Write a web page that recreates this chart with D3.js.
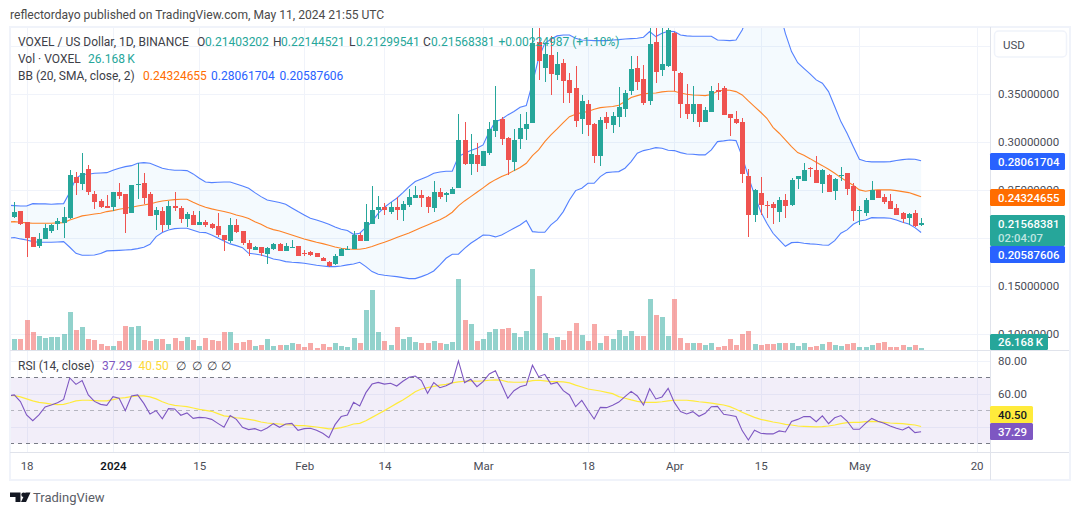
<!DOCTYPE html>
<html>
<head>
<meta charset="utf-8">
<script src="https://cdn.jsdelivr.net/npm/d3@7"></script>
<style>
html,body{margin:0;background:#fff;overflow:hidden}
text{font-family:Roboto,"Noto Sans",sans-serif}
</style>
</head>
<body>
<svg id="chart" width="1080" height="515"></svg>
<script>
// VOXEL / USD daily candles, first candle on 16 Dec 2023
const opens=[.2218,.2284,.2166,.2009,.1919,.1992,.2075,.2152,.2159,.2214,
.2638,.2569,.2722,.2461,.2388,.2336,.2325,.2482,.2461,.2263,
.2562,.2579,.2461,.2242,.2284,.2138,.2336,.2315,.2204,.2242,
.2138,.2169,.2148,.2127,.2034,.1971,.2138,.2072,.1950,.1880,
.1908,.1835,.1884,.1940,.1870,.1901,.1915,.1849,.1853,.1846,
.1794,.1748,.1727,.1818,.1887,.1887,
.2034,.1974,.2148,.2294,.2325,.2273,.2325,.2294,.2346,.2419,
.2451,.2430,.2315,.2482,.2451,.2461,.2524,.3024,.2774,.2868,
.2753,.2889,.3118,.3243,.3045,.2795,.3034,.3139,.3201,.4049,
.3775,.3910,.3702,.3827,.3650,.3566,.3243,.3399,.3191,.2857,
.3264,.3180,.3264,.3347,.3535,.3775,.3660,.3431,.4046,.3754,
.3796,.4140,.3723,.3399,.3295,.3399,.3212,.3316,.3545,.3566,
.3295,.3243,.3212,.2649,.2242,.2471,.2346,.2357,.2273,.2398,
.2346,.2617,.2597,.2729,.2711,.2565,.2659,.2492,.2649,.2680,
.2544,.2287,.2263,.2398,.2503,.2430,.2388,.2315,.2263,.2211,.2263,.21403202];
const highs=[.2378,.2284,.2166,.2009,.2051,.2148,.2148,.2207,.2322,.2711,
.2687,.2889,.2763,.2496,.2409,.2451,.2485,.2579,.2461,.2555,
.2781,.2683,.2482,.2329,.2329,.2388,.2482,.2336,.2277,.2284,
.2284,.2190,.2162,.2263,.2034,.2211,.2200,.2072,.1981,.1919,
.1908,.1905,.1950,.1950,.1947,.1978,.1915,.1877,.1867,.1849,
.1804,.1759,.1832,.1894,.1919,.2075,
.2051,.2357,.2544,.2440,.2367,.2378,.2430,.2388,.2513,.2544,
.2503,.2440,.2597,.2524,.2482,.2537,.3295,.3212,.3087,.2989,
.2909,.3212,.3587,.3267,.3055,.3139,.3295,.3316,.4300,.4300,
.4032,.4109,.3942,.3865,.3719,.3796,.3493,.3441,.3198,.3267,
.3316,.3316,.3577,.3545,.3900,.3900,.3806,.4300,.4300,.4300,
.4300,.4154,.3733,.3608,.3587,.3399,.3368,.3587,.3618,.3587,
.3295,.3327,.3253,.2722,.2513,.2638,.2388,.2378,.2430,.2461,
.2628,.2649,.2784,.2739,.2857,.2722,.2670,.2628,.2742,.2680,
.2576,.2336,.2419,.2597,.2503,.2461,.2461,.2357,.2273,.2263,.2294,.22144521];
const lows=[.2207,.2138,.1807,.1912,.1898,.1988,.2058,.2086,.2006,.2200,
.2451,.2503,.2451,.2305,.2312,.2315,.2287,.2409,.2058,.2259,
.2412,.2357,.2232,.2086,.2068,.2096,.2287,.2155,.2120,.2135,
.2135,.2120,.2099,.2009,.1867,.1947,.2051,.1929,.1814,.1877,
.1814,.1731,.1877,.1867,.1867,.1898,.1814,.1814,.1814,.1801,
.1759,.1703,.1724,.1814,.1884,.1884,
.1974,.1974,.2148,.2200,.2242,.2252,.2190,.2179,.2325,.2419,
.2325,.2263,.2273,.2409,.2378,.2458,.2524,.2760,.2659,.2690,
.2753,.2868,.3055,.2972,.2659,.2701,.2930,.3024,.3201,.3650,
.3629,.3493,.3650,.3410,.3406,.3163,.3087,.3066,.2784,.2753,
.3139,.3097,.3163,.3264,.3493,.3545,.3389,.3389,.3618,.3691,
.3789,.3535,.3253,.3243,.3212,.3160,.3212,.3316,.3441,.3285,
.3066,.3191,.2576,.2013,.2169,.2242,.2211,.2148,.2169,.2211,
.2336,.2513,.2597,.2638,.2576,.2471,.2478,.2398,.2597,.2451,
.2179,.2138,.2232,.2398,.2419,.2357,.2301,.2242,.2159,.2138,.2117,.21299541];
const closes=[.2273,.2152,.2006,.1912,.1992,.2106,.2138,.2179,.2221,.2659,
.2579,.2680,.2485,.2381,.2325,.2318,.2485,.2440,.2256,.2555,
.2565,.2419,.2235,.2298,.2138,.2336,.2318,.2204,.2252,.2138,
.2169,.2138,.2106,.2030,.1978,.2138,.2065,.1947,.1887,.1908,
.1842,.1898,.1940,.1870,.1919,.1912,.1818,.1839,.1828,.1807,
.1766,.1707,.1814,.1887,.1891,.2034,
.1974,.2169,.2294,.2325,.2294,.2322,.2294,.2357,.2430,.2451,
.2419,.2322,.2482,.2430,.2471,.2513,.3024,.2774,.2878,.2774,
.2909,.3139,.3233,.3034,.2816,.3024,.3149,.3191,.4032,.3844,
.3921,.3712,.3817,.3639,.3514,.3222,.3431,.3180,.2857,.3233,
.3201,.3274,.3368,.3514,.3764,.3629,.3410,.4025,.3733,.3817,
.4171,.3747,.3399,.3295,.3399,.3212,.3337,.3535,.3525,.3285,
.3253,.3198,.2670,.2242,.2503,.2346,.2339,.2315,.2398,.2336,
.2607,.2649,.2711,.2718,.2576,.2711,.2482,.2617,.2659,.2513,
.2284,.2294,.2398,.2503,.2419,.2378,.2305,.2242,.2200,.2252,.2127,.21568381];

// The series below begin one day earlier, on 15 Dec 2023
const volumes=[510,144,144,392,235,183,157,170,170,209,497,262,301,144,131,78,52,52,118,314,301,314,131,118,144,144,78,157,118,170,131,52,157,131,118,235,235,92,105,131,52,65,144,52,65,65,92,78,39,92,26,78,39,92,52,39,157,92,
523,785,235,118,65,301,144,170,105,92,92,118,92,78,105,929,392,340,118,144,235,275,275,288,222,170,249,1059,706,222,157,170,131,249,353,196,118,340,92,183,144,262,183,249,183,183,667,458,432,183,667,157,92,92,92,65,92,39,
52,144,65,209,249,78,65,78,78,92,92,92,52,92,39,52,78,105,65,52,78,92,39,39,65,92,105,39,39,65,39,65,26.168];
const bbUpper=[.2343,.2339,.2336,.2336,.2360,.2357,.2357,.2353,.2357,.2360,.2478,.2624,.2666,.2666,.2676,.2680,.2683,.2708,.2729,.2746,.2756,.2781,.2788,.2781,.2756,.2729,.2715,.2708,.2708,.2704,.2670,.2624,.2586,.2579,.2583,.2586,.2586,.2565,.2544,.2520,.2475,.2433,.2398,.2384,.2371,.2353,.2315,.2277,.2242,.2207,.2190,.2169,.2145,.2117,.2093,.2079,.2040,
.2051,.2113,.2172,.2259,.2322,.2371,.2416,.2475,.2537,.2590,.2617,.2642,.2676,.2690,.2697,.2697,.2850,.2885,.2913,.2937,.2972,.3111,.3215,.3240,.3285,.3320,.3365,.3382,.3615,.3876,.4032,.4074,.4109,.4119,.4119,.4084,.4067,.4063,.4060,.4060,.4060,.4067,.4070,.4077,.4081,.4084,.4095,.4154,.4102,.4136,.4157,.4154,.4119,.4109,.4105,.4105,.4105,.4105,.4067,
.4063,.4060,.4067,.4171,.4328,.4449,.4554,.4588,.4554,.4380,.4136,.3945,.3830,.3771,.3712,.3650,.3615,.3528,.3372,.3215,.3094,.2955,.2822,.2802,.2795,.2795,.2795,.2798,.2809,.2819,.2826,.2822,.28061704];
const bbBasis=[.2169,.2172,.2166,.2159,.2155,.2155,.2155,.2155,.2159,.2162,.2190,.2211,.2232,.2242,.2252,.2259,.2277,.2287,.2301,.2312,.2322,.2336,.2346,.2357,.2374,.2388,.2395,.2402,.2405,.2405,.2374,.2346,.2322,.2305,.2291,.2277,.2263,.2242,.2225,.2204,.2172,.2145,.2110,.2089,.2075,.2054,.2033,.2013,.1992,.1974,.1957,.1943,.1926,.1908,.1894,.1887,.1884,
.1884,.1894,.1912,.1936,.1957,.1981,.2006,.2030,.2054,.2082,.2110,.2138,.2166,.2193,.2225,.2270,.2336,.2388,.2433,.2478,.2524,.2572,.2610,.2642,.2670,.2704,.2736,.2781,.2861,.2920,.3007,.3076,.3139,.3205,.3267,.3292,.3309,.3320,.3344,.3361,.3368,.3372,.3386,.3424,.3466,.3486,.3504,.3511,.3514,.3525,.3532,.3532,.3514,.3500,.3493,.3490,.3486,.3497,.3532,
.3545,.3542,.3528,.3493,.3431,.3372,.3313,.3250,.3156,.3094,.3024,.2955,.2892,.2864,.2829,.2791,.2756,.2718,.2676,.2631,.2590,.2551,.2503,.2489,.2499,.2503,.2503,.2503,.2496,.2485,.2475,.2454,.24324655];
const bbLower=[.1999,.2006,.1992,.1981,.1964,.1957,.1957,.1957,.1960,.1964,.1905,.1842,.1821,.1821,.1825,.1839,.1867,.1870,.1873,.1877,.1880,.1891,.1905,.1936,.2016,.2058,.2086,.2099,.2103,.2103,.2082,.2061,.2058,.2033,.2002,.1971,.1940,.1922,.1901,.1842,.1835,.1825,.1807,.1783,.1773,.1755,.1748,.1745,.1738,.1728,.1717,.1710,.1703,.1703,.1710,.1721,.1731,
.1748,.1703,.1651,.1623,.1613,.1606,.1599,.1588,.1578,.1578,.1599,.1623,.1658,.1721,.1790,.1832,.1832,.1894,.1947,.1988,.2033,.2030,.2013,.2033,.2068,.2103,.2138,.2183,.2068,.2061,.2061,.2138,.2190,.2277,.2398,.2496,.2520,.2572,.2572,.2642,.2683,.2690,.2694,.2729,.2798,.2885,.2913,.2927,.2944,.2937,.2916,.2913,.2892,.2878,.2875,.2868,.2868,.2920,.3007,
.3014,.3024,.3017,.2850,.2642,.2451,.2277,.2155,.2051,.1981,.1915,.1953,.1957,.1947,.1940,.1936,.1929,.1926,.1974,.2051,.2086,.2145,.2179,.2190,.2214,.2211,.2211,.2207,.2190,.2166,.2148,.2110,.20587606];
const rsi=[59.0,59.6,55.6,47.5,44.0,47.5,52.3,53.5,54.9,56.9,69.9,66.0,68.3,59.6,55.7,53.9,53.3,58.6,57.6,50.1,59.0,59.6,54.5,48.1,50.1,45.2,51.3,51.1,47.3,48.7,45.4,46.0,45.8,44.8,42.4,40.0,47.1,44.8,40.0,38.6,39.2,37.8,39.6,42.2,40.0,42.0,42.4,38.2,39.2,39.4,38.2,36.4,33.7,41.6,46.5,47.5,55.1,
52.9,61.0,66.2,67.2,66.2,66.7,65.0,67.9,70.3,71.1,68.3,60.6,67.1,64.0,65.2,67.1,80.2,67.1,69.1,64.6,67.7,72.3,74.3,66.0,57.6,62.2,64.6,65.6,77.6,70.7,72.1,66.2,67.2,62.2,59.6,52.5,56.3,50.5,45.0,52.1,51.9,53.3,55.3,58.6,61.8,59.0,53.5,63.4,57.2,58.4,63.6,55.1,49.5,48.1,49.5,46.7,48.5,52.5,52.7,
47.9,47.3,46.5,38.0,32.3,38.2,36.4,36.0,36.0,37.8,37.2,43.6,44.8,46.5,46.5,43.4,46.9,42.2,45.8,47.1,43.8,38.8,38.8,42.4,45.4,43.6,42.4,40.8,39.4,38.4,40.2,36.8,37.29];
const rsiMa=[59.2,59.2,58.4,57.2,56.0,55.1,54.7,54.1,53.7,53.9,54.9,56.0,56.4,56.4,56.2,56.0,56.0,56.8,57.6,58.0,58.6,59.0,59.0,58.4,57.2,55.5,54.1,53.3,52.9,52.5,51.7,50.9,50.3,49.7,48.3,46.9,46.5,45.8,45.4,44.8,44.2,43.2,42.6,42.2,42.0,41.6,41.4,41.0,41.0,40.6,40.2,39.6,39.0,39.2,39.8,40.8,42.0,
42.4,44.0,46.0,48.1,50.1,52.3,54.5,56.6,59.0,61.6,63.2,64.0,64.8,65.6,66.0,66.9,67.5,67.9,68.1,67.9,68.1,68.5,68.7,68.5,67.5,67.3,67.3,67.5,68.3,68.5,68.1,67.7,67.7,67.5,66.9,65.6,64.4,63.2,62.6,62.0,61.2,60.4,58.6,57.6,56.6,55.7,55.1,55.1,55.1,55.5,56.0,56.4,56.4,56.4,56.0,55.5,55.1,54.7,54.1,
53.5,52.5,50.9,49.1,47.5,46.0,44.8,44.0,43.2,42.6,41.8,41.4,40.8,40.6,40.4,40.2,40.4,40.8,41.4,42.2,42.8,43.0,43.0,43.4,43.6,43.4,43.0,42.6,42.4,42.2,41.8,41.4,40.50];

// Axis ticks: gridlines run at every tick, labels only where the scale has room
const timeTicks=[["2023-12-18","18"],["2024-01-01","2024"],["2024-01-15","15"],["2024-02-01","Feb"],["2024-02-14","14"],["2024-03-01","Mar"],["2024-03-18","18"],["2024-04-01","Apr"],["2024-04-15","15"],["2024-05-01","May"],["2024-05-20","20"]];
const priceGrid=[.40,.35,.30,.25,.20,.15,.10];
const priceLabels=[.35,.30,.25,.15,.10];
const rsiGrid=[80,60,40];
const rsiLabels=[80,60];
const rsiLevels=[70,50,30];

const DAY=864e5, start=Date.UTC(2023,11,15);
const seriesDate=i=>new Date(start+i*DAY);
const candleDate=i=>new Date(start+(i+1)*DAY);

const GREEN="#26a69a",RED="#ef5350",GRID="#f0f3fa",FRAME="#f0f3fa",SEP="#e0e3eb",INK="#3d4048",AXIS="#4a4d57";
const BLUE="#2962ff",ORANGE="#ff6d00",PURPLE="#7e57c2",YELLOW="#ffeb3b";
const plot={l:10,r:990,top:27,main:350,rsiB:452.5,bottom:480};

const svg=d3.select("#chart");
const defs=svg.append("defs");
defs.append("clipPath").attr("id","mainClip").append("rect").attr("x",plot.l).attr("y",plot.top).attr("width",plot.r-plot.l).attr("height",plot.main-plot.top);
defs.append("clipPath").attr("id","rsiClip").append("rect").attr("x",plot.l).attr("y",plot.main+1).attr("width",plot.r-plot.l).attr("height",plot.rsiB-plot.main-1);

// Scales
const x=d3.scaleUtc().domain([new Date("2023-12-18"),new Date("2024-05-20")]).range([26.6,976.6]);
const y=d3.scaleLinear().domain([.35,.10]).range([94.3,334.05]);
const yVol=d3.scaleLinear().domain([0,1100]).range([350,265.9]);
const yRsi=d3.scaleLinear().domain([80,30]).range([361.3,443.8]);
const px=d=>Math.round(x(d));
const rsiRow=v=>Math.floor(yRsi(v))+.5;

// Grid
const grid=svg.append("g").attr("stroke",GRID).attr("stroke-width",1).attr("shape-rendering","crispEdges");
grid.selectAll(".gv").data(timeTicks).join("line").attr("x1",d=>px(new Date(d[0]))+.5).attr("x2",d=>px(new Date(d[0]))+.5).attr("y1",plot.top).attr("y2",plot.rsiB);
grid.selectAll(".gp").data(priceGrid).join("line").attr("x1",plot.l).attr("x2",plot.r).attr("y1",d=>Math.round(y(d))+.5).attr("y2",d=>Math.round(y(d))+.5);
grid.selectAll(".gr").data(rsiGrid).join("line").attr("x1",plot.l).attr("x2",plot.r).attr("y1",rsiRow).attr("y2",rsiRow);

// Main pane
const main=svg.append("g").attr("clip-path","url(#mainClip)");

// Volume columns: the oldest one belongs to the candle just left of the visible range
main.append("g").attr("shape-rendering","crispEdges").selectAll("rect").data(volumes).join("rect")
  .attr("x",(d,i)=>px(seriesDate(i))-2).attr("width",5)
  .attr("y",d=>yVol(d)).attr("height",d=>350-yVol(d))
  .attr("fill",(d,i)=>{const c=i-1;const up=c>=0&&closes[c]>=opens[c];return up?"rgba(38,166,154,.5)":"rgba(239,83,80,.5)";});

// Bollinger band
const idx=d3.range(bbUpper.length);
main.append("path").attr("fill","rgba(33,150,243,.05)").attr("d",d3.area().x(i=>x(seriesDate(i))).y0(i=>y(bbLower[i])).y1(i=>y(bbUpper[i]))(idx));
const bbLine=s=>d3.line().x(i=>x(seriesDate(i))).y(i=>y(s[i]))(idx);
main.append("path").attr("fill","none").attr("stroke",BLUE).attr("stroke-opacity",.8).attr("stroke-width",1.1).attr("d",bbLine(bbUpper));
main.append("path").attr("fill","none").attr("stroke",BLUE).attr("stroke-opacity",.8).attr("stroke-width",1.1).attr("d",bbLine(bbLower));
main.append("path").attr("fill","none").attr("stroke",ORANGE).attr("stroke-opacity",.85).attr("stroke-width",1.1).attr("d",bbLine(bbBasis));

// Candles
const candles=main.append("g").attr("shape-rendering","crispEdges");
candles.selectAll("line").data(opens).join("line")
  .attr("x1",(d,i)=>px(candleDate(i))+.5).attr("x2",(d,i)=>px(candleDate(i))+.5)
  .attr("y1",(d,i)=>y(highs[i])).attr("y2",(d,i)=>y(lows[i]))
  .attr("stroke",(d,i)=>closes[i]>=opens[i]?GREEN:RED);
candles.selectAll("rect").data(opens).join("rect")
  .attr("x",(d,i)=>px(candleDate(i))-2).attr("width",5)
  .attr("y",(d,i)=>y(Math.max(opens[i],closes[i])))
  .attr("height",(d,i)=>Math.max(1,Math.abs(y(opens[i])-y(closes[i]))))
  .attr("fill",(d,i)=>closes[i]>=opens[i]?GREEN:RED);

// RSI pane
const rsiG=svg.append("g").attr("clip-path","url(#rsiClip)");
rsiG.append("rect").attr("x",plot.l).attr("width",plot.r-plot.l).attr("y",rsiRow(70)).attr("height",rsiRow(30)-rsiRow(70)).attr("fill","rgba(126,87,194,.1)");
rsiG.selectAll(".lvl").data(rsiLevels).join("line").attr("x1",plot.l).attr("x2",plot.r)
  .attr("y1",rsiRow).attr("y2",rsiRow)
  .attr("stroke","#787b86").attr("stroke-opacity",d=>d===50?.5:1).attr("stroke-dasharray","4 4").attr("shape-rendering","crispEdges");
const rsiLine=s=>d3.line().x(i=>x(seriesDate(i))).y(i=>yRsi(s[i]))(idx);
rsiG.append("path").attr("fill","none").attr("stroke",YELLOW).attr("stroke-width",1.2).attr("d",rsiLine(rsiMa));
rsiG.append("path").attr("fill","none").attr("stroke",PURPLE).attr("stroke-width",1.1).attr("d",rsiLine(rsi));

// Frame and separators
const frame=svg.append("g").attr("shape-rendering","crispEdges");
frame.append("rect").attr("x",9.5).attr("y",26.5).attr("width",1060).attr("height",453.5).attr("fill","none").attr("stroke",FRAME).attr("stroke-width",2);
frame.append("line").attr("x1",990.5).attr("x2",990.5).attr("y1",27).attr("y2",480).attr("stroke",SEP);
frame.append("line").attr("x1",10).attr("x2",1069).attr("y1",350.5).attr("y2",350.5).attr("stroke",SEP);
frame.append("line").attr("x1",10).attr("x2",1069).attr("y1",452.5).attr("y2",452.5).attr("stroke",SEP);

// Axes
const styleAxis=g=>{g.select(".domain").remove();g.selectAll(".tick line").remove();g.selectAll("text").attr("fill",AXIS).attr("font-family","Roboto,sans-serif").attr("font-size",11.5);};
svg.append("g").attr("transform","translate(990,-0.5)")
  .call(d3.axisRight(y).tickValues(priceLabels).tickFormat(d3.format(".8f")).tickSize(0).tickPadding(8)).call(styleAxis);
svg.append("g").attr("transform","translate(990,-0.5)")
  .call(d3.axisRight(yRsi).tickValues(rsiLabels).tickFormat(d3.format(".2f")).tickSize(0).tickPadding(8)).call(styleAxis);
const tickLabel=new Map(timeTicks.map(d=>[+new Date(d[0]),d[1]]));
const timeAxis=svg.append("g").attr("transform","translate(0,457.5)")
  .call(d3.axisBottom(x).tickValues(timeTicks.map(d=>new Date(d[0]))).tickFormat(d=>tickLabel.get(+d)).tickSize(0).tickPadding(4)).call(styleAxis);
timeAxis.selectAll("text").filter(d=>tickLabel.get(+d)==="2024").attr("font-weight",600).attr("fill","#131722");

// Text helpers
const label=(t,xp,yp,color,opts={})=>svg.append("text").text(t).attr("x",xp).attr("y",yp).attr("fill",color)
  .attr("font-size",opts.size||12).attr("font-weight",opts.weight||400).attr("dominant-baseline","central").attr("text-anchor",opts.anchor||"start");

// Currency button
svg.append("rect").attr("x",994.5).attr("y",31).attr("width",72).attr("height",26).attr("rx",4).attr("fill","#fff").attr("stroke",FRAME).attr("stroke-width",1.5);
label("USD",1003,44.5,AXIS,{size:11.5});

// Header line
label("reflectordayo published on TradingView.com, May 11, 2024 21:55 UTC",10,15,"#4a4a4a",{size:12.1});

// Legend rows
const L1=41.7,L2=59,L3=75.7,LR=366;
label("VOXEL / US Dollar, 1D, BINANCE",18,L1,INK);
[["O",197,"0.21403202",205],["H",273,"0.22144521",281],["L",349,"0.21299541",356],["C",423,"0.21568381",431]].forEach(([k,kx,v,vx])=>{label(k,kx,L1,INK);label(v,vx,L1,GREEN);});
label("+0.00224987 (+1.10%)",498.5,L1,GREEN);
label("Vol · VOXEL",18,L2,INK);
label("26.168\u2009K",88,L2,GREEN);
label("BB (20, SMA, close, 2)",18,L3,INK);
label("0.24324655",143,L3,ORANGE);
label("0.28061704",211,L3,BLUE);
label("0.20587606",279.5,L3,BLUE);
label("RSI (14, close)",18,LR,INK);
label("37.29",102,LR,PURPLE);
label("40.50",138.5,LR,"#fdd835");
[176,192,207,221].forEach(p=>label("\u2205",p,LR,INK));

// Value tags on the right-hand scales
const tag=(t,y0,y1,fill,w=75,color="#fff")=>{
  svg.append("rect").attr("x",990).attr("y",y0).attr("width",w).attr("height",y1-y0).attr("rx",1.5).attr("fill",fill);
  label(t,998,(y0+y1)/2,color,{size:11.4,weight:500});
};
tag("0.28061704",153,170,"#2962ff");
tag("0.24324655",189,206,"#ff6d00");
svg.append("rect").attr("x",990).attr("y",215).attr("width",75).attr("height",31).attr("rx",1.5).attr("fill",GREEN);
label("0.21568381",998,224,"#fff",{size:11.4,weight:500});
label("02:04:07",998,237.5,"#bfe5e1",{size:11.4,weight:500});
tag("0.20587606",246,263,"#2962ff");
tag("26.168\u2009K",334,350,GREEN,58);
tag("40.50",406,423,"#ffeb3b",43,"#131722");
tag("37.29",423,440,PURPLE,43);

// Footer mark
const logo=svg.append("g").attr("fill","#131722");
logo.append("path").attr("d","M10 492.5H20.5V502H15.5V497H10Z");
logo.append("circle").attr("cx",23.6).attr("cy",494.8).attr("r",2.3);
logo.append("path").attr("d","M25.5 492.5H30.5L26 502H21Z");
label("TradingView",33,497,"#5a5d66",{size:13});
</script>
</body>
</html>
